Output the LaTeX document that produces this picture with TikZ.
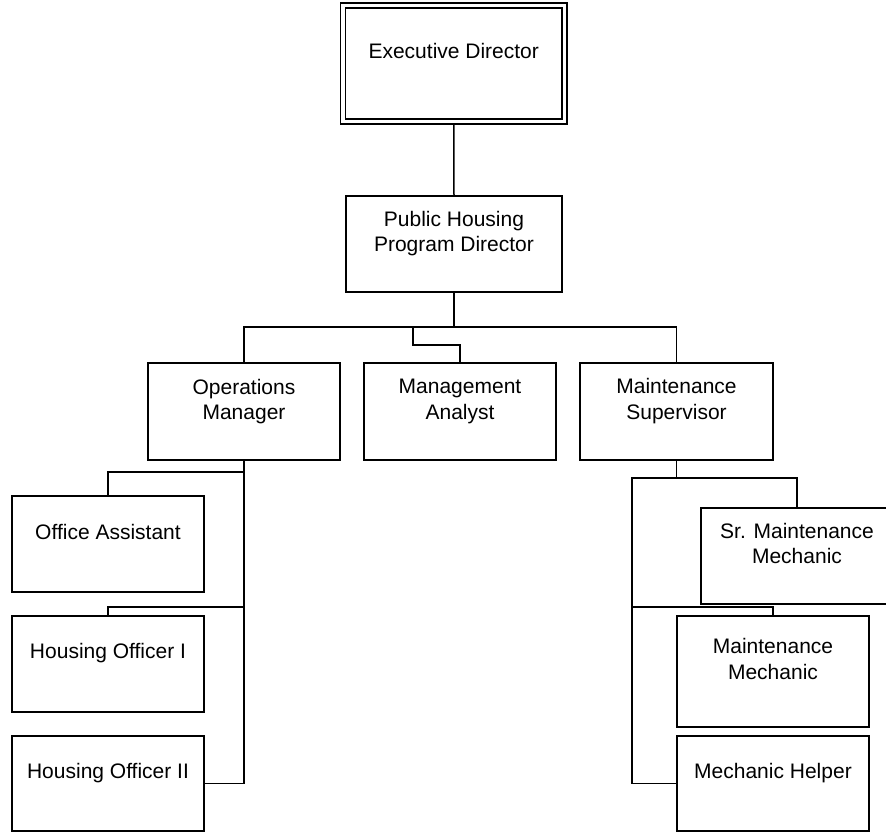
\documentclass[tikz,border=0pt]{standalone}
\usepackage{fontspec}
\setmainfont{Liberation Sans}
\usetikzlibrary{calc}
\begin{document}
\begin{tikzpicture}[x=1pt,y=-1pt,
  box/.style={draw,line width=1.5pt,inner sep=0pt,outer sep=0pt},
  lbl/.style={anchor=north,inner sep=0pt,align=center,font=\fontsize{21}{25.5}\selectfont},
  conn/.style={line width=1.5pt}]
\useasboundingbox (0,0) rectangle (886,832);
\clip (0,0) rectangle (886,832);
% boxes
\node[box,double,double distance=3.5pt,minimum width=221.5pt,minimum height=116pt] (ed) at (453.75,63.5) {};
\node[box,minimum width=216pt,minimum height=96pt] (ph) at (454,244) {};
\node[box,minimum width=192pt,minimum height=97pt] (om) at (244,411.5) {};
\node[box,minimum width=192pt,minimum height=97pt] (ma) at (460,411.5) {};
\node[box,minimum width=193pt,minimum height=97pt] (ms) at (676.5,411.5) {};
\node[box,minimum width=192pt,minimum height=96pt] (oa) at (108,544) {};
\node[box,minimum width=192pt,minimum height=96pt] (ho1) at (108,664) {};
\node[box,minimum width=192pt,minimum height=95pt] (ho2) at (108,783.5) {};
\node[box,minimum width=192pt,minimum height=96pt] (smm) at (797,556) {};
\node[box,minimum width=192pt,minimum height=111pt] (mm) at (773,671.5) {};
\node[box,minimum width=192pt,minimum height=95pt] (mh) at (773,783.5) {};
% labels
\node[lbl] at ($(ed.north)+(0,37.5)$) {Executive Director};
\node[lbl] at ($(ph.north)+(0,15)$) {Public Housing\\Program Director};
\node[lbl] at ($(om.north)+(0,16)$) {Operations\\Manager};
\node[lbl] at ($(ma.north)+(0,16)$) {Management\\Analyst};
\node[lbl] at ($(ms.north)+(0,15.3)$) {Maintenance\\Supervisor};
\node[lbl] at ($(oa.north)+(0,28)$) {Office Assistant};
\node[lbl] at ($(ho1.north)+(0,27)$) {Housing Officer I};
\node[lbl] at ($(ho2.north)+(0,27)$) {Housing Officer II};
\node[lbl] at ($(smm.north)+(0,14.7)$) {Sr. Maintenance\\Mechanic};
\node[lbl] at ($(mm.north)+(0,22.3)$) {Maintenance\\Mechanic};
\node[lbl] at ($(mh.north)+(0,27.3)$) {Mechanic Helper};
% connectors
\draw[conn] ($(ed.south)+(0,2.5)$) -- (ph.north);
\coordinate (bar) at (0,327);
\coordinate (mab) at (413,327);
\coordinate (mak) at (0,345);
\coordinate (ya) at (0,472);
\coordinate (yb) at (0,607);
\coordinate (rt) at (632,478);
\draw[conn] (ph.south) -- (ph.south |- bar);
\draw[conn] (om.north) -- (om.north |- bar) -- (ms.north |- bar) -- (ms.north);
\draw[conn] (mab) -- (mab |- mak) -| (ma.north);
\draw[conn] (om.south) -- (om.south |- ho2.east) -- (ho2.east);
\draw[conn] (om.south |- ya) -| (oa.north);
\draw[conn] (om.south |- yb) -| (ho1.north);
\draw[conn] (ms.south) -- (ms.south |- rt);
\draw[conn] (rt |- mh.west) -- (rt) -| (smm.north);
\draw[conn] (rt |- mh.west) -- (mh.west);
\draw[conn] (rt |- yb) -| (mm.north);
\end{tikzpicture}
\end{document}
